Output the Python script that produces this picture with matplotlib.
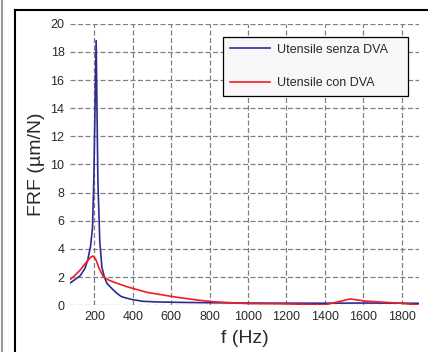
import matplotlib
matplotlib.use("Agg")
import matplotlib.pyplot as plt
from matplotlib.lines import Line2D

# FRF of the tool, with and without the dynamic vibration absorber (DVA)
f_senza = [75, 91, 126, 150, 165, 180, 190, 197, 209, 218, 228, 239, 252, 265,
           290, 317, 340, 369, 400, 455, 520, 629, 800, 1000, 1200, 1400,
           1600, 1800, 1886]
frf_senza = [1.6, 1.75, 2.1, 2.6, 3.2, 4.2, 5.5, 9.0, 18.8, 8.9, 4.5, 2.7, 2.0, 1.56,
             1.2, 0.85, 0.62, 0.5, 0.4, 0.28, 0.24, 0.21, 0.18, 0.16, 0.15, 0.15,
             0.16, 0.15, 0.14]

f_con = [75, 91, 126, 160, 180, 191, 200, 209, 226, 247, 273, 300, 369, 473,
         629, 750, 820, 1000, 1200, 1400, 1532, 1610, 1800, 1886]
frf_con = [1.85, 2.03, 2.5, 3.1, 3.4, 3.5, 3.4, 3.2, 2.56, 2.03, 1.8, 1.65, 1.32,
           0.92, 0.57, 0.35, 0.25, 0.12, 0.1, 0.03, 0.45, 0.3, 0.14, 0.02]

labels = ["Utensile senza DVA", "Utensile con DVA"]

plt.rcParams['font.family'] = ['Liberation Sans', 'DejaVu Sans']

fig = plt.figure(figsize=(4.28, 3.52), dpi=100)
ax = fig.add_axes([0.1636, 0.1327, 0.8154, 0.80])

ax.plot(f_senza, frf_senza, color='#2b2b96', lw=1.2, label=labels[0])
ax.plot(f_con, frf_con, color='#f01e1e', lw=1.2, label=labels[1])

ax.set_xlim(73, 1890)
ax.set_ylim(0, 20)
ax.set_xticks(range(200, 1900, 200))
ax.set_yticks(range(0, 21, 2))
ax.grid(True, color='#808080', linestyle=(0, (4, 2)), lw=0.9)
ax.set_axisbelow(True)
for s in ax.spines.values():
    s.set_visible(False)
ax.tick_params(length=0, labelsize=9, colors='#2a2a2a', pad=4)

ax.set_xlabel("f (Hz)", fontsize=14, color='#2a2a2a', labelpad=5)
ax.set_ylabel("FRF (µm/N)", fontsize=14, color='#2a2a2a', labelpad=4)

leg = ax.legend(loc='upper left', bbox_to_anchor=(0.438, 0.954, 0.53, 0.0),
                mode='expand', fontsize=9,
                fancybox=False, framealpha=1, edgecolor='black',
                handlelength=3.2, handletextpad=0.6, labelspacing=1.75,
                borderpad=0.55, borderaxespad=0)
leg.get_frame().set_facecolor('#f8f6f8')
leg.get_frame().set_linewidth(0.9)
for t in leg.get_texts():
    t.set_color('#2a2a2a')

# outer frame
fig.add_artist(Line2D([15/428, 1], [1 - 9.5/352] * 2, color='black', lw=1.5,
                      transform=fig.transFigure))
fig.add_artist(Line2D([15/428] * 2, [0, 1 - 9.5/352], color='black', lw=1.5,
                      transform=fig.transFigure))
fig.add_artist(Line2D([1.5/428] * 2, [0, 1], color='#999999', lw=1.5,
                      transform=fig.transFigure))

fig.savefig("out.png", dpi=100)
